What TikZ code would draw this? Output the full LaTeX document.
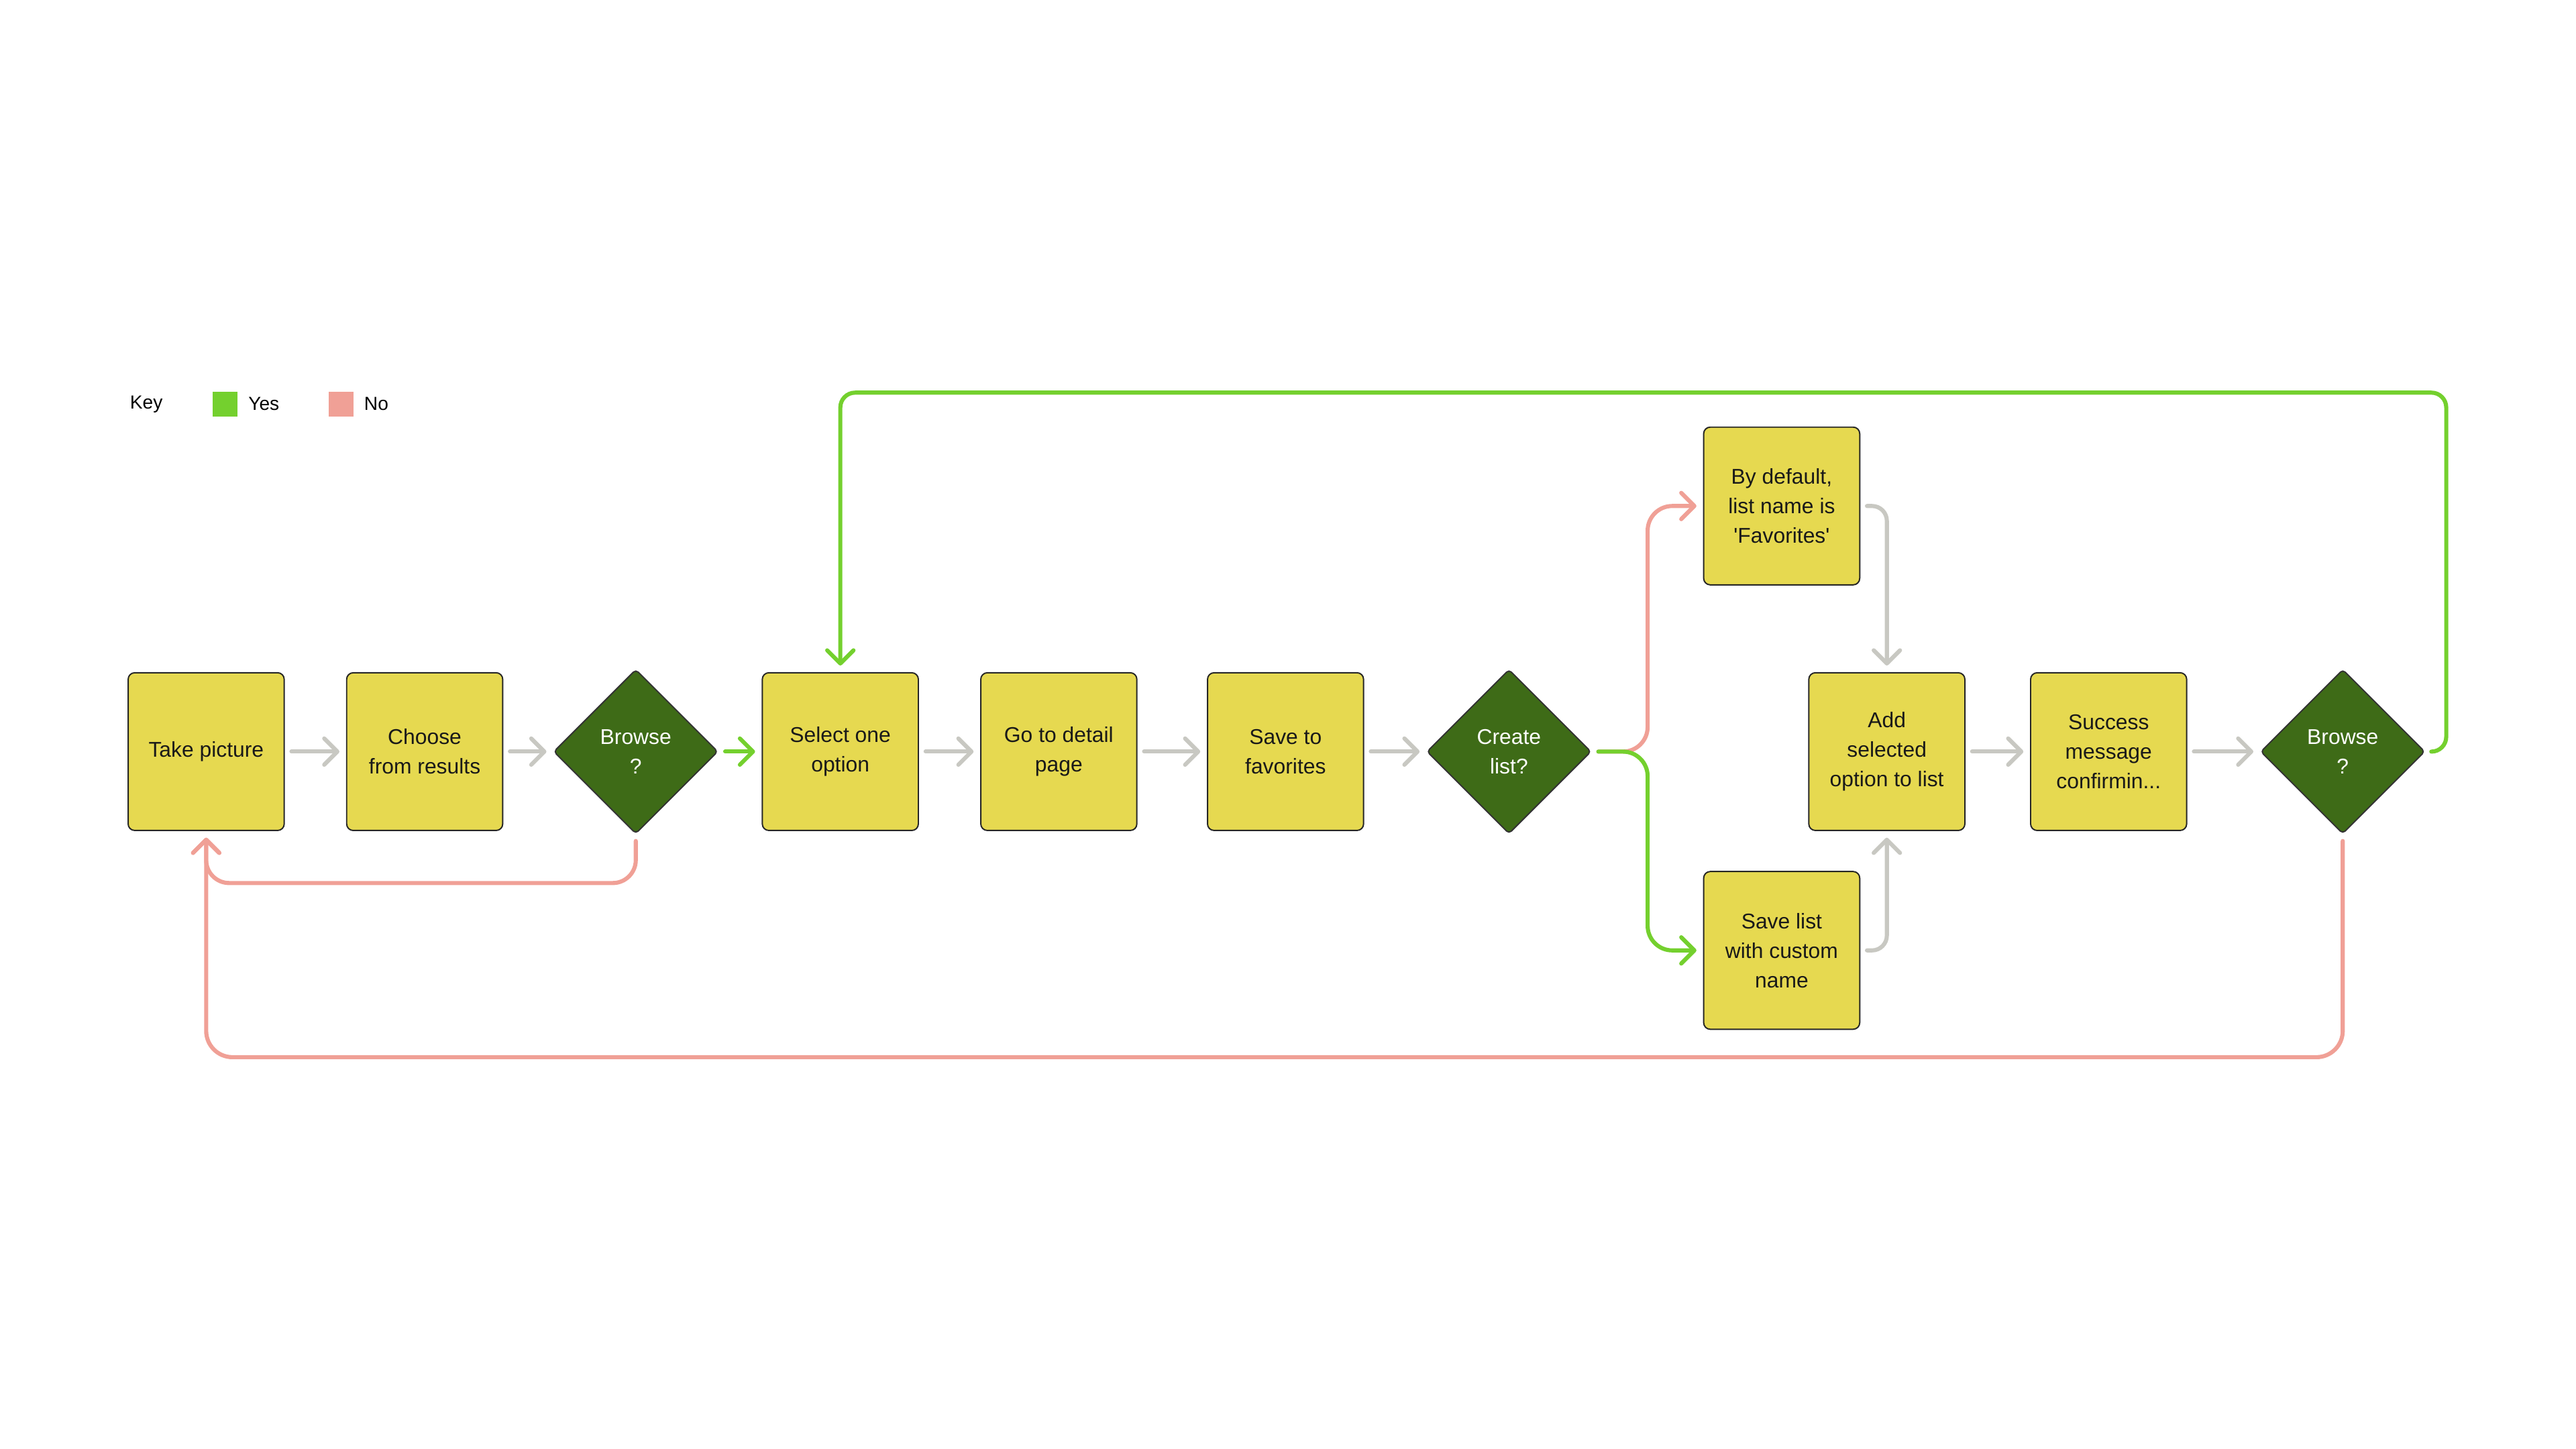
\documentclass[tikz,border=0pt]{standalone}
\usepackage{fontspec}
\setmainfont{Liberation Sans}
\usetikzlibrary{arrows.meta,shapes.geometric}
\definecolor{boxfill}{RGB}{230,217,80}
\definecolor{decfill}{RGB}{62,107,23}
\definecolor{yesgreen}{RGB}{116,208,46}
\definecolor{nopink}{RGB}{240,160,150}
\definecolor{flowgray}{RGB}{200,200,194}
\begin{document}
\begin{tikzpicture}[x=1pt,y=-1pt,line join=round,line cap=round,
    >={Straight Barb[length=8pt,width=16pt,round]},
    font=\fontsize{13}{18}\selectfont,
    box/.style={draw=black!85,line width=.8pt,fill=boxfill,rounded corners=4pt,
        minimum width=95pt,minimum height=96pt,inner sep=2pt,align=center,text=black!90},
    choice/.style={diamond,aspect=1,draw=black!80,line width=.8pt,fill=decfill,rounded corners=2pt,
        minimum width=100pt,minimum height=100pt,inner sep=0pt,align=center,text=white},
    keysq/.style={minimum size=15pt,inner sep=0pt},
    keytxt/.style={anchor=west,inner sep=0pt,font=\fontsize{11.5}{14}\selectfont},
    flow/.style={->,draw=flowgray,line width=2.5pt,shorten <=4pt,shorten >=4pt},
    yes/.style={flow,draw=yesgreen},
    no/.style={flow,draw=nopink}]
    \def\ry{457.5} \def\rt{308} \def\rb{578.5}
    \useasboundingbox (0,0) rectangle (1568,882);
    % key
    \node[keytxt] (key) at (79,246) {Key};
    \node[keysq,fill=yesgreen] (yeskey) at (137,246) {};
    \node[keytxt] (yeslbl) at (151,246) {Yes};
    \node[keysq,fill=nopink] (nokey) at (207.5,246) {};
    \node[keytxt] (nolbl) at (221.5,246) {No};
    % steps
    \node[box] (take) at (125.5,\ry) {Take picture};
    \node[box] (choose) at (258.5,\ry) {Choose\\from results};
    \node[choice] (brw1) at (387,\ry) {Browse\\?};
    \node[box] (select) at (511.5,\ry) {Select one\\option};
    \node[box] (detail) at (644.5,\ry) {Go to detail\\page};
    \node[box] (savefav) at (782.5,\ry) {Save to\\favorites};
    \node[choice] (create) at (918.5,\ry) {Create\\list?};
    \node[box] (default) at (1084.5,\rt) {By default,\\list name is\\\textquotesingle Favorites\textquotesingle};
    \node[box] (custom) at (1084.5,\rb) {Save list\\with custom\\name};
    \node[box] (add) at (1148.5,\ry) {Add\\selected\\option to list};
    \node[box] (success) at (1283.5,\ry) {Success\\message\\confirmin...};
    \node[choice] (brw2) at (1426,\ry) {Browse\\?};
    \coordinate (looptop) at (1489,239);
    \coordinate (nohigh) at (125.5,537.5);
    \coordinate (nolow) at (125.5,643.5);
    % main row
    \draw[flow] (take) -- (choose);
    \draw[flow] (choose) -- (brw1);
    \draw[yes] (brw1) -- (select);
    \draw[flow] (select) -- (detail);
    \draw[flow] (detail) -- (savefav);
    \draw[flow] (savefav) -- (create);
    \draw[flow] (add) -- (success);
    \draw[flow] (success) -- (brw2);
    % list branch
    \draw[no,rounded corners=15pt] (create.east) -- ++(34,0) |- (default.west);
    \draw[yes,rounded corners=15pt] (create.east) -- ++(34,0) |- (custom.west);
    \draw[flow,shorten <=0pt,rounded corners=9pt] ([xshift=4pt]default.east) -| (add.north);
    \draw[flow,shorten <=0pt,rounded corners=9pt] ([xshift=4pt]custom.east) -| (add.south);
    % loops back
    \draw[yes,shorten <=0pt,rounded corners=9pt] ([xshift=3.5pt]brw2.east) -| (looptop) -| (select.north);
    \draw[no,shorten <=0pt,rounded corners=14pt] ([yshift=-4pt]brw1.south) |- (nohigh) -- (take.south);
    \draw[no,shorten <=0pt,rounded corners=16pt] ([yshift=-4pt]brw2.south) |- (nolow) -- (take.south);
\end{tikzpicture}
\end{document}
